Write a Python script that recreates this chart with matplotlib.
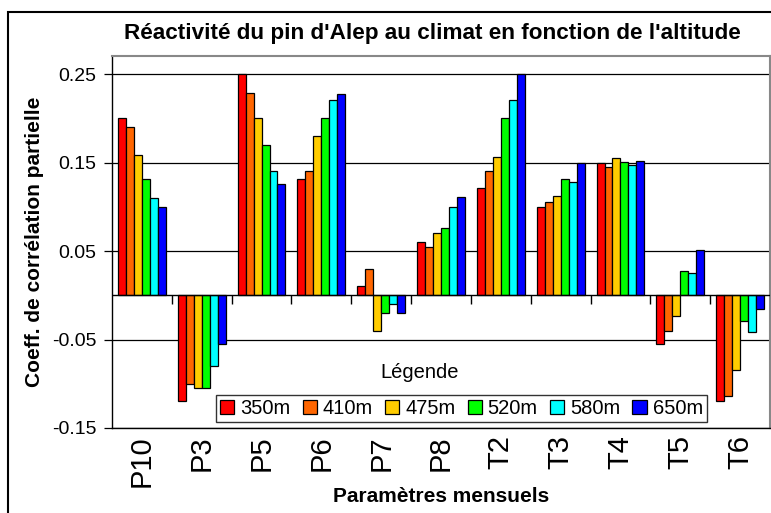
import matplotlib
matplotlib.use("Agg")
import matplotlib.pyplot as plt
import numpy as np
from matplotlib.patches import Rectangle

plt.rcParams['font.family'] = ['Liberation Sans', 'DejaVu Sans']

categories = ["P10", "P3", "P5", "P6", "P7", "P8", "T2", "T3", "T4", "T5", "T6"]
altitudes = ["350m", "410m", "475m", "520m", "580m", "650m"]
v350 = [0.200, -0.119, 0.250, 0.131, 0.010, 0.060, 0.121, 0.100, 0.149, -0.055, -0.119]
v410 = [0.190, -0.100, 0.229, 0.141, 0.030, 0.055, 0.141, 0.105, 0.145, -0.040, -0.114]
v475 = [0.159, -0.105, 0.200, 0.180, -0.040, 0.070, 0.156, 0.112, 0.155, -0.023, -0.085]
v520 = [0.131, -0.105, 0.170, 0.200, -0.020, 0.076, 0.200, 0.131, 0.151, 0.027, -0.029]
v580 = [0.110, -0.080, 0.141, 0.221, -0.010, 0.100, 0.221, 0.128, 0.147, 0.025, -0.042]
v650 = [0.100, -0.055, 0.126, 0.227, -0.020, 0.111, 0.250, 0.149, 0.152, 0.051, -0.015]
series = [v350, v410, v475, v520, v580, v650]
colors = ["#FF0000", "#FF6600", "#FFCC00", "#00FF00", "#00FFFF", "#0000FF"]
yticks = [-0.15, -0.05, 0.05, 0.15, 0.25]

W, H = 771, 513
fig = plt.figure(figsize=(W / 100, H / 100), dpi=100)

# outer border
fig.patches.append(Rectangle((8 / W, -0.1), 1.2, (H - 12) / H + 0.1, transform=fig.transFigure,
                             fill=False, edgecolor='black', linewidth=1.5))

ax = fig.add_axes([112 / W, (H - 428) / H, 658 / W, (428 - 56) / H])
ax.set_facecolor('white')

n = len(categories)
x = np.arange(n)
bw = 0.8 / len(series)
for i, (vals, c, lab) in enumerate(zip(series, colors, altitudes)):
    ax.bar(x - 0.4 + bw * (i + 0.5), vals, width=bw, color=c, edgecolor='black',
           linewidth=0.9, label=lab, zorder=3)

ax.set_xlim(-0.5, n - 0.5)
ax.set_ylim(-0.15, 0.2705)
ax.set_yticks(yticks)
ax.set_yticklabels(["-0.15", "-0.05", "0.05", "0.15", "0.25"], fontsize=14)
for yv in yticks:
    ax.axhline(yv, color='black', linewidth=0.9, zorder=1)
ax.axhline(0, color='black', linewidth=1.0, zorder=4)
ax.vlines(x[:-1] + 0.5, -0.01, 0, color='black', linewidth=1.0, zorder=4)

ax.set_xticks(x)
ax.set_xticklabels(categories, rotation=90, fontsize=21)
ax.tick_params(axis='x', length=0, pad=5)
ax.tick_params(axis='y', length=6, width=0.9, direction='out', pad=5)

for s in ['top', 'right']:
    ax.spines[s].set_color('#888888')
    ax.spines[s].set_linewidth(1.5)
ax.spines['left'].set_linewidth(1.0)
ax.spines['bottom'].set_linewidth(1.0)

ax.set_ylabel("Coeff. de corrélation partielle", fontsize=15, fontweight='bold', labelpad=6)
ax.set_xlabel("Paramètres mensuels", fontsize=15, fontweight='bold', labelpad=0)
fig.text(432 / W, 1 - 33 / H, "Réactivité du pin d'Alep au climat en fonction de l'altitude",
         fontsize=16.2, fontweight='bold', ha='center', va='center')

leg = ax.legend(loc='center', bbox_to_anchor=((461.5 - 112) / 658, (428 - 408.5) / 372),
                ncol=6, fontsize=14.5, frameon=True, fancybox=False, edgecolor='black',
                handlelength=0.7, handleheight=0.7, handletextpad=0.3, columnspacing=0.6,
                borderpad=0.2, borderaxespad=0)
leg.get_frame().set_linewidth(1.0)
fig.text(420 / W, 1 - 373 / H, "Légende", fontsize=14.5, ha='center', va='center')

fig.savefig("out.png", dpi=100)
